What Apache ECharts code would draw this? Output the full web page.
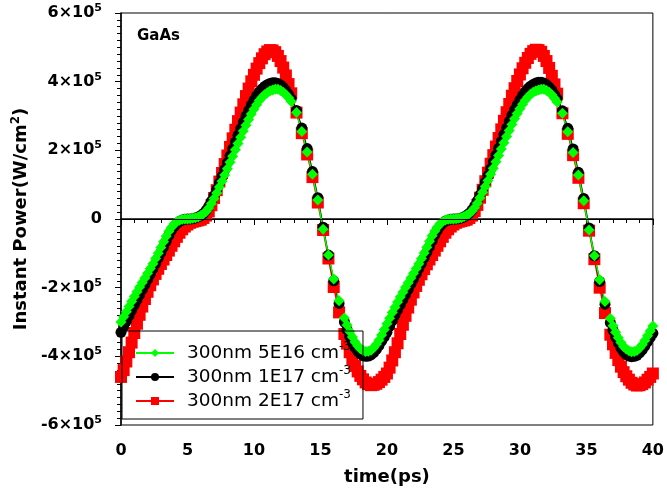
<!DOCTYPE html>
<html><head><meta charset="utf-8">
<script src="https://cdn.jsdelivr.net/npm/echarts@6/dist/echarts.min.js"></script>
<style>html,body{margin:0;padding:0;background:#fff}#c{width:667px;height:495px}</style>
</head><body><div id="c"></div>
<script>
// time in ps (sampling is sparser on the steep falling parts, as in the reference)
const timePs = [
0,0.2,0.4,0.6,0.8,1,1.2,1.4,1.6,1.8,2,2.2,2.4,2.6,2.8,3,3.2,3.4,3.6,3.8,4,4.2,4.4,4.6,4.8,
5,5.2,5.4,5.6,5.8,6,6.2,6.4,6.6,6.8,7,7.2,7.4,7.6,7.8,8,8.2,8.4,8.6,8.8,9,9.2,9.4,9.6,9.8,
10,10.2,10.4,10.6,10.8,11,11.2,11.4,11.6,11.8,12,12.2,12.4,12.6,12.8,
13.2,13.6,14,14.4,14.8,15.2,15.6,16,16.4,16.8,
17,17.2,17.4,17.6,17.8,18,18.2,18.4,18.6,18.8,19,19.2,19.4,19.6,19.8,
20,20.2,20.4,20.6,20.8,21,21.2,21.4,21.6,21.8,22,22.2,22.4,22.6,22.8,23,23.2,23.4,23.6,23.8,24,24.2,24.4,24.6,24.8,
25,25.2,25.4,25.6,25.8,26,26.2,26.4,26.6,26.8,27,27.2,27.4,27.6,27.8,28,28.2,28.4,28.6,28.8,29,29.2,29.4,29.6,29.8,
30,30.2,30.4,30.6,30.8,31,31.2,31.4,31.6,31.8,32,32.2,32.4,32.6,32.8,
33.2,33.6,34,34.4,34.8,35.2,35.6,36,36.4,36.8,
37,37.2,37.4,37.6,37.8,38,38.2,38.4,38.6,38.8,39,39.2,39.4,39.6,39.8,40];

// instant power, in units of 1e5 W/cm^2
const p5E16 = [
-3.00,-2.85,-2.70,-2.55,-2.40,-2.26,-2.12,-1.98,-1.85,-1.72,-1.58,-1.44,-1.30,-1.15,-1.00,-0.83,-0.66,-0.50,-0.36,-0.24,-0.14,-0.08,-0.04,-0.01,0.00,
0.00,0.01,0.02,0.04,0.06,0.10,0.15,0.22,0.32,0.45,0.60,0.76,0.93,1.10,1.28,1.46,1.65,1.83,2.02,2.20,2.38,2.56,2.73,2.90,3.06,
3.20,3.33,3.45,3.54,3.62,3.68,3.73,3.76,3.78,3.78,3.74,3.69,3.62,3.53,3.42,
3.10,2.55,1.95,1.30,0.55,-0.30,-1.05,-1.75,-2.38,-2.88,
-3.09,-3.28,-3.44,-3.58,-3.69,-3.78,-3.83,-3.86,-3.85,-3.82,-3.75,-3.65,-3.53,-3.38,-3.22,
-3.05,-2.89,-2.72,-2.57,-2.42,-2.27,-2.13,-1.99,-1.86,-1.72,-1.58,-1.44,-1.30,-1.15,-0.99,-0.82,-0.65,-0.49,-0.35,-0.23,-0.13,-0.07,-0.03,-0.01,0.00,
0.00,0.01,0.02,0.04,0.07,0.11,0.16,0.23,0.33,0.46,0.62,0.78,0.95,1.12,1.30,1.48,1.67,1.85,2.04,2.22,2.40,2.58,2.75,2.92,3.07,
3.21,3.34,3.46,3.55,3.63,3.69,3.73,3.76,3.78,3.78,3.74,3.69,3.62,3.52,3.41,
3.08,2.54,1.94,1.28,0.53,-0.32,-1.07,-1.77,-2.40,-2.90,
-3.11,-3.30,-3.46,-3.60,-3.71,-3.79,-3.84,-3.87,-3.86,-3.83,-3.76,-3.66,-3.54,-3.40,-3.26,-3.12];

const p1E17 = [
-3.30,-3.14,-2.98,-2.82,-2.66,-2.51,-2.36,-2.21,-2.06,-1.91,-1.76,-1.61,-1.45,-1.30,-1.14,-0.98,-0.82,-0.65,-0.48,-0.33,-0.22,-0.13,-0.07,-0.03,-0.01,
0.00,0.00,0.01,0.03,0.06,0.10,0.16,0.25,0.37,0.52,0.68,0.86,1.05,1.24,1.44,1.64,1.84,2.04,2.24,2.44,2.63,2.82,3.00,3.16,3.32,
3.46,3.59,3.70,3.79,3.86,3.91,3.95,3.97,3.97,3.95,3.90,3.83,3.74,3.63,3.50,
3.16,2.65,2.05,1.38,0.62,-0.24,-1.05,-1.80,-2.46,-3.00,
-3.22,-3.42,-3.59,-3.74,-3.85,-3.93,-3.98,-4.00,-3.99,-3.96,-3.89,-3.80,-3.69,-3.56,-3.43,
-3.30,-3.13,-2.97,-2.81,-2.65,-2.50,-2.35,-2.20,-2.05,-1.90,-1.75,-1.60,-1.44,-1.29,-1.13,-0.97,-0.81,-0.64,-0.47,-0.32,-0.21,-0.12,-0.06,-0.03,-0.01,
0.00,0.00,0.01,0.03,0.06,0.11,0.17,0.26,0.38,0.53,0.70,0.88,1.07,1.26,1.46,1.66,1.86,2.06,2.26,2.46,2.65,2.84,3.02,3.18,3.33,
3.47,3.60,3.71,3.80,3.87,3.92,3.96,3.98,3.98,3.96,3.91,3.84,3.75,3.63,3.50,
3.15,2.64,2.04,1.36,0.60,-0.26,-1.07,-1.82,-2.48,-3.02,
-3.24,-3.44,-3.61,-3.76,-3.87,-3.95,-3.99,-4.01,-4.00,-3.97,-3.90,-3.81,-3.70,-3.57,-3.45,-3.33];

const p2E17 = [
-4.60,-4.40,-4.15,-3.88,-3.60,-3.32,-3.05,-2.79,-2.55,-2.33,-2.12,-1.93,-1.76,-1.60,-1.45,-1.31,-1.18,-1.05,-0.92,-0.78,-0.65,-0.52,-0.40,-0.30,-0.22,
-0.16,-0.11,-0.08,-0.06,-0.04,-0.02,0.03,0.10,0.22,0.40,0.61,0.84,1.09,1.34,1.60,1.85,2.10,2.35,2.60,2.85,3.10,3.34,3.58,3.80,4.01,
4.20,4.38,4.54,4.68,4.80,4.88,4.92,4.91,4.86,4.75,4.60,4.41,4.18,3.93,3.66,
3.10,2.50,1.88,1.22,0.48,-0.32,-1.15,-1.98,-2.72,-3.35,
-3.63,-3.88,-4.09,-4.28,-4.44,-4.57,-4.67,-4.76,-4.81,-4.84,-4.83,-4.80,-4.75,-4.68,-4.60,
-4.50,-4.33,-4.12,-3.88,-3.62,-3.35,-3.08,-2.82,-2.58,-2.35,-2.14,-1.95,-1.77,-1.61,-1.46,-1.32,-1.18,-1.05,-0.92,-0.78,-0.65,-0.52,-0.40,-0.30,-0.22,
-0.16,-0.11,-0.08,-0.06,-0.04,-0.02,0.03,0.10,0.23,0.41,0.62,0.85,1.10,1.35,1.61,1.86,2.11,2.36,2.61,2.86,3.11,3.35,3.59,3.81,4.02,
4.21,4.39,4.55,4.69,4.81,4.89,4.93,4.92,4.87,4.75,4.60,4.40,4.17,3.92,3.65,
3.08,2.48,1.86,1.20,0.46,-0.34,-1.17,-2.00,-2.74,-3.37,
-3.65,-3.90,-4.11,-4.30,-4.46,-4.58,-4.68,-4.77,-4.82,-4.85,-4.84,-4.81,-4.76,-4.68,-4.60,-4.50];

const seriesNames = ['300nm 5E16 cm', '300nm 1E17 cm', '300nm 2E17 cm'];
const unitSup = '-3';

const FONT = 'DejaVu Sans';
const chart = echarts.init(document.getElementById('c'));
function mk(name, vals, color, symbol, size) {
  return {
    name, type: 'line', data: timePs.map((t, i) => [t, vals[i]]),
    symbol, symbolSize: size, showSymbol: true, showAllSymbol: true,
    lineStyle: { color, width: 1.5 }, itemStyle: { color, borderWidth: 0 },
    animation: false, emphasis: { disabled: true }
  };
}
chart.setOption({
  animation: false,
  title: { text: 'GaAs', left: 137, top: 29, padding: 0,
    textStyle: { fontFamily: FONT, fontWeight: 'bold', fontSize: 15, color: '#000' } },
  grid: { left: 121, right: 13, top: 13, bottom: 70, show: true, borderColor: '#000', borderWidth: 1 },
  legend: {
    orient: 'vertical', left: 122, top: 331, padding: [10, 12, 8, 13],
    itemWidth: 38, itemHeight: 10, itemGap: 2,
    borderColor: '#000', borderWidth: 1,
    data: seriesNames,
    formatter: n => n + '{s|' + unitSup + '}',
    textStyle: { fontFamily: FONT, fontSize: 18.5, color: '#000', lineHeight: 20, padding: [0, 0, 0, 8],
      rich: { s: { fontFamily: FONT, fontSize: 12, color: '#000', padding: [0, 0, 12, 0] } } }
  },
  xAxis: {
    type: 'value', min: 0, max: 40, interval: 5,
    axisLine: { show: true, lineStyle: { color: '#000', width: 1.5 } },
    axisTick: { show: true, length: 6, lineStyle: { color: '#000' } },
    minorTick: { show: true, splitNumber: 5, length: 4, lineStyle: { color: '#000' } },
    splitLine: { show: false },
    axisLabel: { margin: 18, fontFamily: FONT, fontWeight: 'bold', fontSize: 16, color: '#000' },
    name: 'time(ps)', nameLocation: 'middle', nameGap: 43,
    nameTextStyle: { fontFamily: FONT, fontWeight: 'bold', fontSize: 18, color: '#000' }
  },
  yAxis: {
    type: 'value', min: -6, max: 6, interval: 2,
    axisLine: { show: true, lineStyle: { color: '#000', width: 1.5 } },
    axisTick: { show: true, length: 6, lineStyle: { color: '#000' } },
    minorTick: { show: true, splitNumber: 10, length: 4, lineStyle: { color: '#000' } },
    splitLine: { show: false },
    axisLabel: { margin: 19, color: '#000',
      formatter: v => v === 0 ? '{b|0}' : '{b|' + v + '×10}{s|5}',
      rich: { b: { fontFamily: FONT, fontWeight: 'bold', fontSize: 16, color: '#000' },
              s: { fontFamily: FONT, fontWeight: 'bold', fontSize: 11, color: '#000', padding: [0, 0, 10, 0] } } },
    name: 'Instant Power(W/cm{s|2})', nameLocation: 'middle', nameGap: 84,
    nameTextStyle: { fontFamily: FONT, fontWeight: 'bold', fontSize: 18, color: '#000',
      rich: { s: { fontFamily: FONT, fontWeight: 'bold', fontSize: 12, color: '#000', padding: [0, 0, 10, 0] } } }
  },
  series: [
    { type: 'line', data: [], silent: true,
      markLine: { silent: true, symbol: ['none', 'none'], label: { show: false }, animation: false,
        lineStyle: { color: '#000', width: 1, type: 'solid' }, data: [{ yAxis: 0 }] } },
    mk(seriesNames[2], p2E17, '#ff0000', 'rect', 12),
    mk(seriesNames[1], p1E17, '#000000', 'circle', 11),
    mk(seriesNames[0], p5E16, '#00ff00', 'diamond', 11)
  ]
});
</script></body></html>
